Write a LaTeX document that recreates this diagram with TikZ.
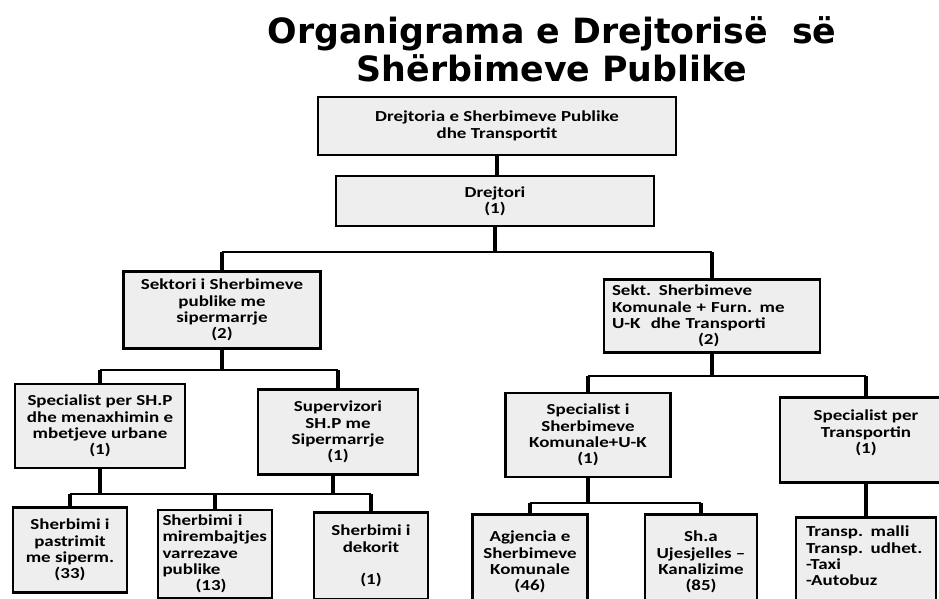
\documentclass[tikz,border=0pt]{standalone}
\usepackage{fontspec}
\setmainfont{Carlito}
\newfontfamily\boxfont{Carlito}[FakeStretch=1.24]
\newfontfamily\titlefont{DejaVu Sans}
\usetikzlibrary{calc}
\definecolor{boxfill}{RGB}{238, 238, 238}
\tikzset{
    orgbox/.style={draw, line width=1.4pt, fill=boxfill, align=center,
        inner sep=2pt, font=\boxfont\fontsize{8.7}{9.3}\selectfont\bfseries},
    drop/.style={line width=2.3pt},
    bus/.style={line width=1.1pt},
}

\begin{document}
\begin{tikzpicture}[x=0.02cm, y=-0.02cm]
        \useasboundingbox (0, 0) rectangle (939, 598);
        \clip (0, 0) rectangle (939, 598);

        \node (title) at (552, 49) [align=center,
            font=\titlefont\fontsize{19.8}{21.6}\selectfont\bfseries]
            {Organigrama e Drejtorisë\ \ së\\Shërbimeve Publike};

        % Top of the chart
        \node[orgbox, minimum width=7.16cm, minimum height=1.16cm] (dst)
            at (497, 126) {Drejtoria e Sherbimeve Publike\\dhe Transportit};
        \node[orgbox, minimum width=6.36cm, minimum height=1.0cm] (dir)
            at (495, 201) {Drejtori\\(1)};

        % Sectors
        \node[orgbox, minimum width=3.94cm, minimum height=1.54cm] (sekPub)
            at (222, 310) {Sektori i Sherbimeve\\publike me\\sipermarrje\\(2)};
        \node[orgbox, minimum width=4.32cm, minimum height=1.46cm, align=left,
            text width=4.0cm] (sekKom) at (712, 316) {Sekt. Sherbimeve\\
            Komunale + Furn. me\\U-K\ \ dhe Transporti\\\hspace*{1.72cm}(2)};

        % Specialists
        \node[orgbox, minimum width=3.4cm, minimum height=1.68cm] (specShp)
            at (100, 426) {Specialist per SH.P\\dhe menaxhimin e\\
            mbetjeve urbane\\(1)};
        \node[orgbox, minimum width=3.2cm, minimum height=1.7cm] (superv)
            at (338, 432) {Supervizori\\SH.P me\\Sipermarrje\\(1)};
        \node[orgbox, minimum width=3.3cm, minimum height=1.68cm] (specKom)
            at (588, 435) {Specialist i\\Sherbimeve\\Komunale+U-K\\(1)};
        \node[orgbox, minimum width=3.44cm, minimum height=1.7cm] (specTr)
            at (866, 440) {Specialist per\\Transportin\\(1)\\\mbox{}};

        % Services
        \node[orgbox, minimum width=2.28cm, minimum height=1.7cm] (pastr)
            at (70, 550) {Sherbimi i\\pastrimit\\me siperm.\\(33)};
        \node[orgbox, minimum width=2.28cm, minimum height=1.76cm, align=left,
            text width=2.1cm] (mirem) at (215, 554) {Sherbimi i\\
            mirembajtjes\\varrezave\\publike\\\hspace*{0.66cm}(13)};
        \node[orgbox, minimum width=2.28cm, minimum height=1.74cm] (dekor)
            at (371, 556) {Sherbimi i\\dekorit\\\mbox{}\\(1)};
        \node[orgbox, minimum width=2.3cm, minimum height=1.9cm] (agj)
            at (530, 562) {Agjencia e\\Sherbimeve\\Komunale\\(46)};
        \node[orgbox, minimum width=2.24cm, minimum height=1.9cm] (sha)
            at (701, 562) {Sh.a\\Ujesjelles –\\Kanalizime\\(85)};
        \node[orgbox, minimum width=2.8cm, minimum height=1.86cm, align=left,
            text width=2.4cm] (transp) at (866, 564) {Transp. malli\\
            Transp. udhet.\\-Taxi\\-Autobuz\\\mbox{}};

        % Bus levels
        \coordinate (busA) at (0, 252);
        \coordinate (busB) at (0, 370);
        \coordinate (busC) at (0, 376);
        \coordinate (busD) at (0, 494);
        \coordinate (busE) at (0, 503);

        \draw[drop] (dst.south) -- (dst.south |- dir.north);
        \draw[drop] (dir.south) -- (dir.south |- busA);
        \draw[bus] (sekPub.north |- busA) -- (sekKom.north |- busA);

        \draw[drop] (sekPub.south) -- (sekPub.south |- busB);
        \draw[bus] (specShp.north |- busB) -- (superv.north |- busB);
        \draw[drop] (sekKom.south) -- (sekKom.south |- busC);
        \draw[bus] (specKom.north |- busC) -- (specTr.north |- busC);

        \draw[drop] (specShp.south) -- (specShp.south |- busD);
        \draw[drop] ($(superv.south)+(-5, 0)$) -- ($(superv.south |- busD)
            +(-5, 0)$);
        \draw[bus] (pastr.north |- busD) -- (dekor.north |- busD);
        \draw[drop] (specKom.south) -- (specKom.south |- busE);
        \draw[bus] (agj.north |- busE) -- (sha.north |- busE);
        \draw[drop] (specTr) -- (transp);

        \foreach \child/\lvl in {sekPub/busA, sekKom/busA, specShp/busB,
            superv/busB, specKom/busC, specTr/busC, pastr/busD, mirem/busD,
            dekor/busD, agj/busE, sha/busE}{
            \draw[drop] (\child.north |- \lvl) -- (\child.north);
        }
    \end{tikzpicture}
\end{document}
